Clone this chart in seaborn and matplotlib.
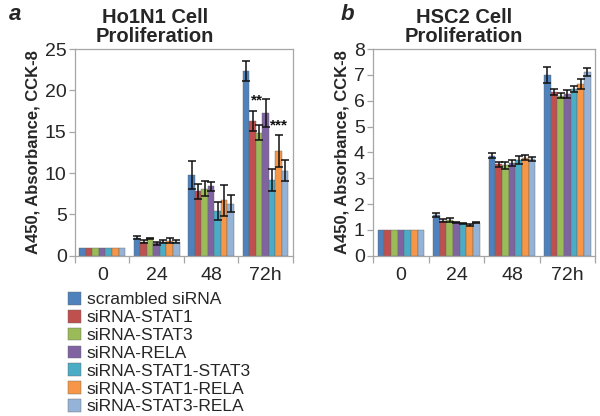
import numpy as np
import pandas as pd
import matplotlib
matplotlib.use("Agg")
import matplotlib.pyplot as plt
import seaborn as sns

# categories
timepoints = ["0", "24", "48", "72h"]
groups = ["scrambled siRNA", "siRNA-STAT1", "siRNA-STAT3", "siRNA-RELA",
          "siRNA-STAT1-STAT3", "siRNA-STAT1-RELA", "siRNA-STAT3-RELA"]
colors = ["#4F81BD", "#C0504D", "#9BBB59", "#8064A2", "#4BACC6", "#F79646", "#95B3D7"]

# Ho1N1 means / errors, one row per group, columns = timepoints
ho1n1_mean = [
    [1.0, 2.2, 9.8, 22.4],
    [1.0, 1.7, 7.8, 16.3],
    [1.0, 2.1, 8.1, 14.9],
    [1.0, 1.5, 8.4, 17.3],
    [1.0, 1.7, 5.4, 9.2],
    [1.0, 1.8, 6.7, 12.7],
    [1.0, 1.7, 6.3, 10.3],
]
ho1n1_err = [
    [0.0, 0.2, 1.7, 1.2],
    [0.0, 0.2, 0.9, 1.2],
    [0.0, 0.1, 0.9, 0.9],
    [0.0, 0.2, 0.5, 1.7],
    [0.0, 0.2, 1.1, 1.3],
    [0.0, 0.3, 1.9, 1.9],
    [0.0, 0.2, 1.0, 1.3],
]

# HSC2 means / errors
hsc2_mean = [
    [1.0, 1.57, 3.87, 7.00],
    [1.0, 1.36, 3.55, 6.35],
    [1.0, 1.38, 3.50, 6.20],
    [1.0, 1.30, 3.60, 6.25],
    [1.0, 1.27, 3.72, 6.45],
    [1.0, 1.20, 3.80, 6.65],
    [1.0, 1.28, 3.75, 7.10],
]
hsc2_err = [
    [0.0, 0.07, 0.10, 0.30],
    [0.0, 0.06, 0.10, 0.12],
    [0.0, 0.08, 0.15, 0.10],
    [0.0, 0.02, 0.12, 0.15],
    [0.0, 0.02, 0.15, 0.12],
    [0.0, 0.05, 0.10, 0.18],
    [0.0, 0.02, 0.07, 0.15],
]

# significance marks (72h group)
star_labels = ["**", "***"]
star_x = [2.84, 3.24]
star_y = [18.8, 15.8]

sns.set_theme(style="white")
plt.rcParams["font.family"] = ["Liberation Sans", "DejaVu Sans"]


def to_long(means):
    rows = []
    for g, vals in zip(groups, means):
        for t, v in zip(timepoints, vals):
            rows.append({"time": t, "group": g, "value": v})
    return pd.DataFrame(rows)


def draw_panel(ax, means, errs, ymax, step):
    df = to_long(means)
    sns.barplot(data=df, x="time", y="value", hue="group", order=timepoints,
                hue_order=groups, palette=colors, width=0.84, gap=0,
                errorbar=None, saturation=1, linewidth=0.3,
                edgecolor="#666666", ax=ax)
    for cont, err in zip(ax.containers, errs):
        xs = [b.get_x() + b.get_width() / 2 for b in cont]
        ys = [b.get_height() for b in cont]
        e = np.array(err)
        ax.errorbar(np.array(xs)[e > 0], np.array(ys)[e > 0], yerr=e[e > 0],
                    fmt="none", ecolor="#111111", elinewidth=1.1,
                    capsize=2.8, capthick=1.1)
    ax.set_ylim(0, ymax)
    ax.set_yticks(np.arange(0, ymax + 0.01, step))
    ax.set_xlim(-0.5, 3.5)
    ax.set_xlabel("")
    ax.set_ylabel("A450, Absorbance, CCK-8", fontsize=12, fontweight="bold",
                  labelpad=3)
    for s in ax.spines.values():
        s.set_color("#A6A6A6")
        s.set_linewidth(0.9)
    ax.tick_params(axis="y", which="major", length=4, width=0.9,
                   color="#A6A6A6", labelsize=14, pad=2, left=True)
    ax.tick_params(axis="x", which="major", length=0, labelsize=14, pad=8)
    ax.set_xticks([-0.5, 0.5, 1.5, 2.5, 3.5], minor=True)
    ax.tick_params(axis="x", which="minor", length=5, width=0.9,
                   color="#A6A6A6", bottom=True)


fig = plt.figure(figsize=(6.0, 4.16), dpi=100)
ax_a = fig.add_axes([0.125, 0.385, 0.363, 0.497])
ax_b = fig.add_axes([0.622, 0.385, 0.370, 0.497])

draw_panel(ax_a, ho1n1_mean, ho1n1_err, 25, 5)
draw_panel(ax_b, hsc2_mean, hsc2_err, 8, 1)

for lbl, x, y in zip(star_labels, star_x, star_y):
    ax_a.text(x, y, lbl, ha="center", va="center", fontsize=11,
              fontweight="bold", color="#111111")

handles, labels = ax_a.get_legend_handles_labels()
ax_a.get_legend().remove()
ax_b.get_legend().remove()
fig.legend(handles, labels, loc="upper left",
           bbox_to_anchor=(0.114, 1 - 292 / 416), frameon=False,
           fontsize=12.5, handlelength=0.75, handleheight=0.75,
           handletextpad=0.3, labelspacing=0.14, borderpad=0,
           borderaxespad=0)

fig.text(155 / 600, 1 - 27 / 416, "Ho1N1 Cell\nProliferation", ha="center",
         va="center", fontsize=14.5, fontweight="bold", linespacing=1.0)
fig.text(464 / 600, 1 - 27 / 416, "HSC2 Cell\nProliferation", ha="center",
         va="center", fontsize=14.5, fontweight="bold", linespacing=1.0)
fig.text(15 / 600, 1 - 15 / 416, "a", ha="center", va="center", fontsize=16,
         fontweight="bold", fontstyle="italic")
fig.text(347 / 600, 1 - 15 / 416, "b", ha="center", va="center", fontsize=16,
         fontweight="bold", fontstyle="italic")

fig.savefig("out.png", dpi=100)
